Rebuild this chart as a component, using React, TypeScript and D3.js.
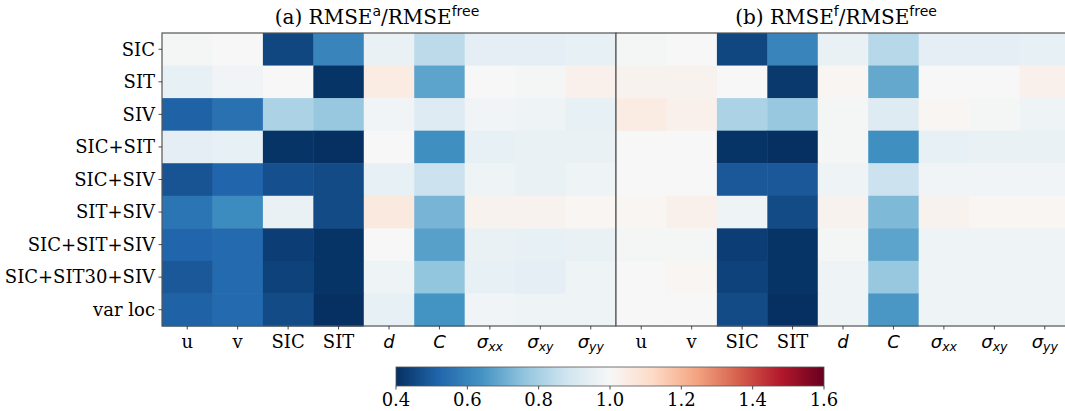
import React from 'react';
import * as d3 from 'd3';

const rows = ['SIC', 'SIT', 'SIV', 'SIC+SIT', 'SIC+SIV', 'SIT+SIV', 'SIC+SIT+SIV', 'SIC+SIT30+SIV', 'var loc'];
const cols = ['u', 'v', 'SIC', 'SIT', 'd', 'C', 'sxx', 'sxy', 'syy'];

// RMSE^a / RMSE^free
const analysisRatio = [
  [0.99, 1.0, 0.45, 0.6, 0.96, 0.84, 0.94, 0.94, 0.95],
  [0.95, 0.98, 1.0, 0.41, 1.05, 0.68, 1.0, 0.99, 1.03],
  [0.51, 0.55, 0.81, 0.77, 0.98, 0.92, 0.98, 0.97, 0.95],
  [0.94, 0.95, 0.41, 0.4, 1.0, 0.63, 0.95, 0.96, 0.96],
  [0.48, 0.52, 0.47, 0.46, 0.95, 0.87, 0.97, 0.96, 0.97],
  [0.56, 0.62, 0.96, 0.46, 1.06, 0.72, 1.02, 1.02, 1.01],
  [0.52, 0.53, 0.43, 0.41, 1.0, 0.67, 0.96, 0.95, 0.96],
  [0.49, 0.53, 0.44, 0.41, 0.97, 0.76, 0.95, 0.94, 0.97],
  [0.51, 0.53, 0.46, 0.4, 0.95, 0.64, 0.98, 0.97, 0.97],
];

// RMSE^f / RMSE^free
const forecastRatio = [
  [0.99, 1.0, 0.45, 0.6, 0.96, 0.83, 0.94, 0.94, 0.95],
  [1.02, 1.02, 1.0, 0.42, 1.01, 0.69, 1.0, 1.0, 1.03],
  [1.05, 1.03, 0.81, 0.77, 0.99, 0.92, 1.01, 0.99, 0.97],
  [1.0, 1.0, 0.41, 0.4, 0.99, 0.63, 0.95, 0.96, 0.96],
  [1.0, 1.0, 0.49, 0.49, 0.97, 0.87, 0.98, 0.98, 0.98],
  [1.01, 1.03, 0.97, 0.46, 1.02, 0.73, 1.02, 1.01, 1.01],
  [0.99, 0.99, 0.43, 0.41, 0.99, 0.68, 0.97, 0.97, 0.97],
  [1.0, 1.01, 0.44, 0.41, 0.97, 0.77, 0.97, 0.97, 0.97],
  [1.0, 1.0, 0.46, 0.4, 0.97, 0.65, 0.97, 0.97, 0.97],
];

const cbarTicks = [0.4, 0.6, 0.8, 1.0, 1.2, 1.4, 1.6];

// matplotlib RdBu_r
const rdbuR = ['#053061', '#2166ac', '#4393c3', '#92c5de', '#d1e5f0', '#f7f7f7', '#fddbc7', '#f4a582', '#d6604d', '#b2182b', '#67001f'];

const W = 1065;
const H = 411;
const top = 33;
const bottom = 326;
const panelW = 454;
const panels = [
  { left: 162, data: analysisRatio, label: '(a) RMSE', sup: 'a', yLabels: true },
  { left: 616, data: forecastRatio, label: '(b) RMSE', sup: 'f', yLabels: false },
];

const serif = 'DejaVu Serif, serif';
const sans = 'DejaVu Sans, sans-serif';
const fs = 18;

const color = d3.scaleLinear<string>()
  .domain(d3.range(11).map(i => 0.4 + i * 0.12))
  .range(rdbuR)
  .interpolate(d3.interpolateRgb)
  .clamp(true);

function ColLabel({ c, x, y }: { c: string; x: number; y: number }) {
  if (c === 'd' || c === 'C') {
    return <text x={x} y={y} textAnchor="middle" fontFamily={sans} fontStyle="italic" fontSize={fs}>{c}</text>;
  }
  if (c.startsWith('s')) {
    return (
      <text x={x} y={y} textAnchor="middle" fontFamily={sans} fontStyle="italic" fontSize={fs}>
        σ<tspan fontSize={12.5} dy={3}>{c.slice(1)}</tspan>
      </text>
    );
  }
  return <text x={x} y={y} textAnchor="middle" fontFamily={serif} fontSize={fs}>{c}</text>;
}

export default function App() {
  const y = d3.scaleBand().domain(rows).range([top, bottom]);
  const cb = d3.scaleLinear().domain([0.4, 1.6]).range([396, 824]);
  const cbTop = 367;
  const cbH = 19;

  return (
    <svg width={W} height={H} style={{ display: 'block', position: 'absolute', left: 0, top: 0 }}>
      <defs>
        <linearGradient id="cbar" x1="0" x2="1" y1="0" y2="0">
          {rdbuR.map((c, i) => <stop key={i} offset={i / 10} stopColor={c} />)}
        </linearGradient>
      </defs>
      <rect width={W} height={H} fill="#fff" />
      {panels.map((p, pi) => {
        const x = d3.scaleBand().domain(cols).range([p.left, p.left + panelW]);
        return (
          <g key={pi}>
            {p.data.map((row, ri) =>
              row.map((v, ci) => (
                <rect key={`${ri}-${ci}`} x={x(cols[ci])} y={y(rows[ri])}
                  width={x.bandwidth() + 0.5} height={y.bandwidth() + 0.5} fill={color(v)} />
              ))
            )}
            <rect x={p.left} y={top} width={panelW} height={bottom - top} fill="none" stroke="#555" strokeWidth={1.2} />
            <text x={p.left + panelW / 2 + (pi === 0 ? -12 : -7)} y={24} textAnchor="middle" fontFamily={serif} fontSize={20}>
              {p.label}<tspan fontFamily={sans} fontSize={14} dy={-8}>{p.sup}</tspan>
              <tspan dy={8}>/RMSE</tspan><tspan fontFamily={sans} fontSize={14} dy={-8}>free</tspan>
            </text>
            {cols.map(c => {
              const cx = (x(c) as number) + x.bandwidth() / 2;
              return (
                <g key={c}>
                  <line x1={cx} x2={cx} y1={bottom} y2={bottom + 3.5} stroke="#222" strokeWidth={0.8} />
                  <ColLabel c={c} x={cx} y={bottom + 22} />
                </g>
              );
            })}
            {p.yLabels && rows.map(r => {
              const cy = (y(r) as number) + y.bandwidth() / 2;
              return (
                <g key={r}>
                  <line x1={p.left - 3.5} x2={p.left} y1={cy} y2={cy} stroke="#222" strokeWidth={0.8} />
                  <text x={p.left - 7} y={cy} dy="0.35em" textAnchor="end" fontFamily={serif} fontSize={fs}>{r}</text>
                </g>
              );
            })}
          </g>
        );
      })}
      <rect x={cb(0.4)} y={cbTop} width={cb(1.6) - cb(0.4)} height={cbH} fill="url(#cbar)" stroke="#555" strokeWidth={0.8} />
      {cbarTicks.map(t => (
        <g key={t}>
          <line x1={cb(t)} x2={cb(t)} y1={cbTop + cbH} y2={cbTop + cbH + 3.5} stroke="#222" strokeWidth={0.8} />
          <text x={cb(t)} y={cbTop + cbH + 20} textAnchor="middle" fontFamily={serif} fontSize={18}>{t.toFixed(1)}</text>
        </g>
      ))}
    </svg>
  );
}
